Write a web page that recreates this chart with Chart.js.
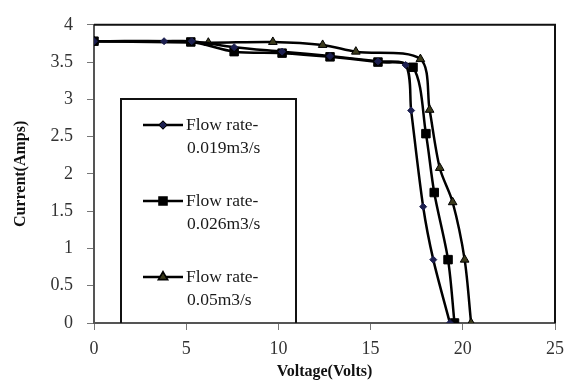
<!DOCTYPE html>
<html>
<head>
<meta charset="utf-8">
<script src="https://cdn.jsdelivr.net/npm/chart.js@4.4.0/dist/chart.umd.min.js"></script>
<style>
  body { margin: 0; background: #fff; }
  #wrap { position: relative; width: 572px; height: 385px; }
</style>
</head>
<body>
<div id="wrap"><canvas id="ivChart"></canvas></div>
<script>
const voltage019 = [0, 3.8, 5.3, 7.6, 10.2, 12.8, 15.4, 16.9, 17.2, 17.85, 18.4, 19.3];
const current019 = [3.78, 3.78, 3.78, 3.7, 3.64, 3.58, 3.51, 3.46, 2.85, 1.56, 0.85, 0];

const voltage026 = [0, 5.25, 7.6, 10.2, 12.8, 15.4, 17.3, 18.0, 18.45, 19.2, 19.55];
const current026 = [3.78, 3.77, 3.64, 3.62, 3.57, 3.5, 3.43, 2.54, 1.75, 0.85, 0];

const voltage05 = [0, 6.2, 9.7, 12.4, 14.2, 17.7, 18.2, 18.75, 19.45, 20.1, 20.45];
const current05 = [3.78, 3.76, 3.77, 3.73, 3.64, 3.54, 2.86, 2.08, 1.62, 0.85, 0];

const seriesLabels = ['Flow rate-\n0.019m3/s', 'Flow rate-\n0.026m3/s', 'Flow rate-\n0.05m3/s'];

const xTicks = [0, 5, 10, 15, 20, 25];
const yTicks = [0, 0.5, 1, 1.5, 2, 2.5, 3, 3.5, 4];

const serif = '"Liberation Serif", "Times New Roman", serif';

function toPoints(xs, ys) {
  return xs.map((x, i) => ({ x: x, y: ys[i] }));
}

const markerStyles = [
  { pointStyle: 'rectRot', radius: 3.5, fill: '#1c1f4f', stroke: '#1c1f4f' },
  { pointStyle: 'rect', radius: 6, fill: '#000', stroke: '#000' },
  { pointStyle: 'triangle', radius: 5, fill: '#3b3a1c', stroke: '#000' },
];

// legend box drawn inside the plot, like the original
const boxLegend = {
  id: 'boxLegend',
  afterDraw(chart) {
    const ctx = chart.ctx;
    const area = chart.chartArea;
    ctx.save();
    // frame round the plot area
    ctx.strokeStyle = '#111';
    ctx.lineWidth = 2;
    ctx.beginPath();
    ctx.moveTo(area.left, area.top);
    ctx.lineTo(area.right, area.top);
    ctx.lineTo(area.right, area.bottom);
    ctx.stroke();

    // legend frame
    ctx.beginPath();
    ctx.moveTo(121, area.bottom);
    ctx.lineTo(121, 99);
    ctx.lineTo(296, 99);
    ctx.lineTo(296, area.bottom);
    ctx.stroke();

    const rows = [125, 201, 277];
    ctx.font = '17.5px ' + serif;
    ctx.textBaseline = 'middle';
    seriesLabels.forEach((label, i) => {
      const y = rows[i];
      ctx.strokeStyle = '#000';
      ctx.lineWidth = 2.5;
      ctx.beginPath();
      ctx.moveTo(143, y);
      ctx.lineTo(183, y);
      ctx.stroke();
      const m = markerStyles[i];
      Chart.helpers.drawPoint(ctx, {
        pointStyle: m.pointStyle,
        radius: i === 1 ? 5 : m.radius - 0.5,
        rotation: 0,
        borderWidth: 1,
      }, 163, y);
      ctx.fillStyle = m.fill;
      ctx.strokeStyle = m.stroke;
      ctx.lineWidth = 1;
      ctx.fill();
      ctx.stroke();
      ctx.fillStyle = '#1a1a1a';
      const lines = label.split('\n');
      ctx.fillText(lines[0], 186, y);
      ctx.fillText(lines[1], 187, y + 23);
    });
    ctx.restore();
  },
};

const datasets = [
  toPoints(voltage019, current019),
  toPoints(voltage026, current026),
  toPoints(voltage05, current05),
].map((data, i) => ({
  label: seriesLabels[i],
  data: data,
  borderColor: '#000',
  borderWidth: 2.5,
  tension: 0.3,
  pointStyle: markerStyles[i].pointStyle,
  pointRadius: markerStyles[i].radius,
  pointBackgroundColor: markerStyles[i].fill,
  pointBorderColor: markerStyles[i].stroke,
  pointBorderWidth: 1,
}));

new Chart(document.getElementById('ivChart'), {
  type: 'line',
  data: { datasets: datasets },
  options: {
    responsive: true,
    maintainAspectRatio: false,
    animation: false,
    layout: { padding: { top: 22, right: 6, left: 7, bottom: 0 } },
    plugins: { legend: { display: false }, tooltip: { enabled: false } },
    scales: {
      x: {
        type: 'linear',
        min: 0,
        max: 25,
        afterBuildTicks: (scale) => { scale.ticks = xTicks.map((v) => ({ value: v })); },
        afterFit: (scale) => { scale.height = 62; },
        grid: { drawOnChartArea: false, tickLength: 7, color: '#777' },
        border: { color: '#555', width: 2 },
        ticks: { color: '#333', font: { family: serif, size: 18 }, padding: 8 },
        title: {
          display: true,
          text: 'Voltage(Volts)',
          color: '#111',
          font: { family: serif, size: 16, weight: 'bold' },
          padding: { top: 5 },
        },
      },
      y: {
        min: 0,
        max: 4,
        afterBuildTicks: (scale) => { scale.ticks = yTicks.map((v) => ({ value: v })); },
        afterFit: (scale) => { scale.width = 87; },
        grid: { drawOnChartArea: false, tickLength: 7, color: '#777' },
        border: { color: '#555', width: 2 },
        ticks: {
          color: '#333',
          font: { family: serif, size: 18 },
          padding: 14,
          callback: (value) => String(value),
        },
        title: {
          display: true,
          text: 'Current(Amps)',
          color: '#111',
          font: { family: serif, size: 16, weight: 'bold' },
          padding: { bottom: 4 },
        },
      },
    },
  },
  plugins: [boxLegend],
});
</script>
</body>
</html>
